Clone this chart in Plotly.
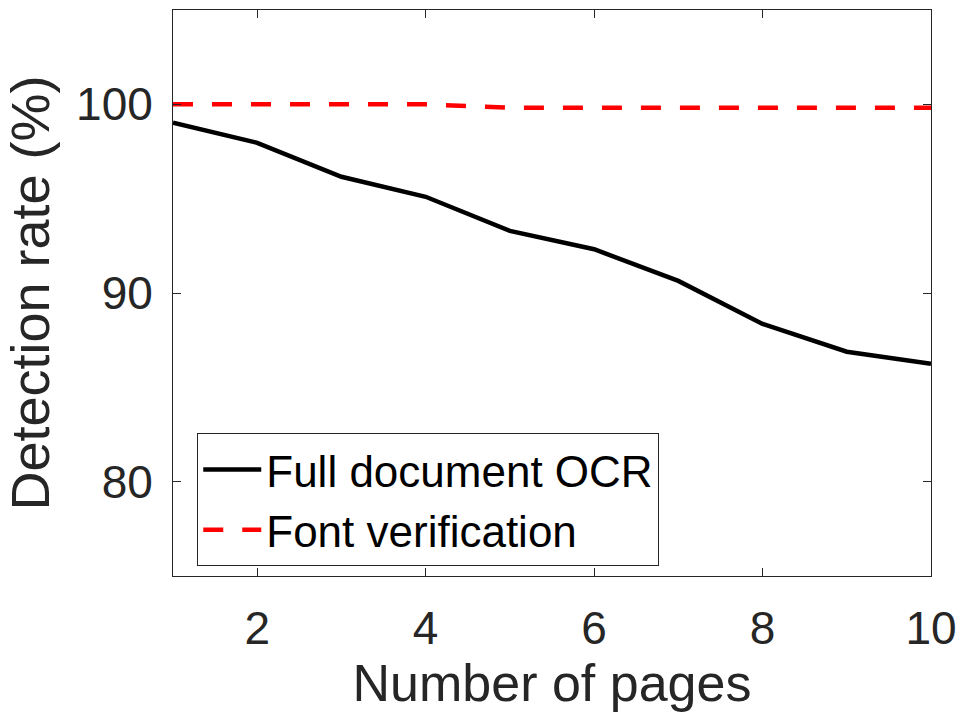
import plotly.graph_objects as go

pages = [1, 2, 3, 4, 5, 6, 7, 8, 9, 10]
full_ocr = [99.03, 97.96, 96.16, 95.10, 93.29, 92.32, 90.64, 88.36, 86.89, 86.25]
font_verif = [100.0, 100.0, 100.0, 100.0, 99.82, 99.82, 99.82, 99.82, 99.82, 99.82]
x_ticks = [2, 4, 6, 8, 10]
y_ticks = [80, 90, 100]

FONT = "Liberation Sans"
AX = "#262626"

fig = go.Figure()
fig.add_trace(go.Scatter(x=pages, y=full_ocr, mode="lines", name="Full document OCR",
                         line=dict(color="black", width=4.5)))
fig.add_trace(go.Scatter(x=pages, y=font_verif, mode="lines", name="Font verification",
                         line=dict(color="#ff0000", width=4.5, dash="20px,19px")))

axis_common = dict(showline=True, linecolor=AX, linewidth=1, mirror="ticks",
                   ticks="inside", ticklen=8, tickwidth=1, tickcolor=AX,
                   showgrid=False, zeroline=False, automargin=False,
                   tickfont=dict(family=FONT, size=46, color=AX))

fig.update_layout(
    width=961, height=721,
    margin=dict(l=173, r=30, t=10, b=145),
    paper_bgcolor="white", plot_bgcolor="white",
    showlegend=True,
    legend=dict(x=0.032, y=0.252, xanchor="left", yanchor="top",
                bgcolor="white", bordercolor=AX, borderwidth=1,
                font=dict(family=FONT, size=44, color="black"),
                tracegroupgap=0, itemwidth=58),
    xaxis=dict(range=[1, 10], tickvals=x_ticks, ticktext=[str(v) for v in x_ticks],
               title=dict(text="Number of pages", font=dict(family=FONT, size=52, color=AX), standoff=8),
               ticklabelstandoff=12, **axis_common),
    yaxis=dict(range=[75, 105], tickvals=y_ticks, ticktext=[str(v) for v in y_ticks],
               title=dict(text="Detection rate (%)", font=dict(family=FONT, size=54, color=AX), standoff=10),
               ticklabelstandoff=10, **axis_common),
)

fig.write_html("out.html")
